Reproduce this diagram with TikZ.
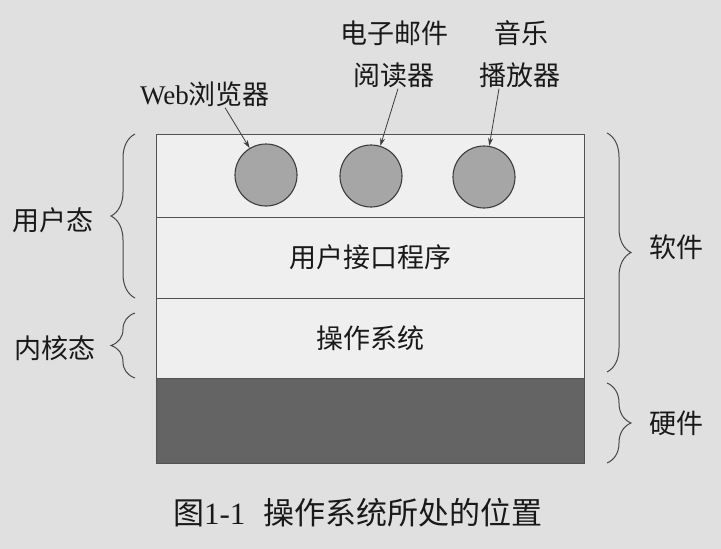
\documentclass[tikz,border=0pt]{standalone}
\usepackage{fontspec}
\setmainfont{Liberation Serif}
\newfontfamily\cjk{Noto Sans CJK SC}
\usetikzlibrary{arrows.meta, positioning, decorations.pathreplacing}
\definecolor{paper}{RGB}{224,224,224}
\definecolor{layerfill}{RGB}{239,239,239}
\definecolor{hwfill}{RGB}{100,100,100}
\definecolor{appfill}{RGB}{166,166,166}
\definecolor{ink}{RGB}{25,25,25}

\begin{document}
\begin{tikzpicture}[
    x=1pt, y=-1pt,
    node distance=0pt,
    layer/.style={
        draw=ink!75,
        fill=layerfill,
        line width=1pt,
        minimum width=428pt,
        inner sep=0pt,
        outer sep=0pt,
        text=ink,
        font=\cjk\fontsize{27}{30}\selectfont
    },
    app/.style={
        circle,
        draw=ink!85,
        fill=appfill,
        line width=1.1pt,
        minimum size=62pt,
        inner sep=0pt
    },
    tag/.style={
        inner sep=1pt,
        text=ink,
        font=\cjk\fontsize{27}{30}\selectfont
    },
    arrow/.style={
        -{Stealth[length=8pt,width=5pt]},
        draw=ink!85,
        line width=0.8pt
    },
    brace/.style={
        decorate,
        decoration={brace, amplitude=24pt},
        draw=ink!80,
        line width=1pt
    }
]
\useasboundingbox[fill=paper] (0,0) rectangle (721,549);

% Nodes
\node (apps) [layer, minimum height=83pt] at (370,175.5) {};
\node (ui) [layer, minimum height=81pt, below=of apps] {用户接口程序};
\node (os) [layer, minimum height=80pt, below=of ui] {操作系统};
\node (hw) [layer, minimum height=85pt, fill=hwfill, below=of os] {};

\node (web) [app] at (266,175) {};
\node (mail) [app] at (371,176) {};
\node (music) [app] at (484,177) {};

\node (weblabel) [tag] at (205,94) {{\rmfamily Web}浏览器};
\node (maillabel) [tag] at (394,75) {阅读器};
\node (mailtop) [tag] at (394,33) {电子邮件};
\node (musiclabel) [tag] at (520,75) {播放器};
\node (musictop) [tag] at (521,33) {音乐};

\node (user) [tag] at (53,220) {用户态};
\node (kernel) [tag] at (55,348) {内核态};
\node (soft) [tag] at (676,247) {软件};
\node (hard) [tag] at (676,423) {硬件};

\node (caption) [tag, font=\cjk\fontsize{31}{33}\selectfont] at (358,513)
    {图{\rmfamily 1-1}\hspace{0.6em}操作系统所处的位置};

% Paths
\draw [arrow] ([xshift=20pt]weblabel.south) -- (web);
\draw [arrow] ([xshift=4pt]maillabel.south) -- (mail);
\draw [arrow] ([xshift=-21pt]musiclabel.south) -- (music);

\draw [brace] ([xshift=-21pt]ui.south west) -- ([xshift=-21pt]apps.north west);
\draw [brace] ([xshift=-21pt]os.south west) -- ([xshift=-21pt,yshift=-15pt]os.north west);
\draw [brace] ([xshift=23pt,yshift=1pt]apps.north east) -- ([xshift=23pt,yshift=6pt]os.south east);
\draw [brace] ([xshift=23pt,yshift=-5pt]hw.north east) -- ([xshift=23pt]hw.south east);

\end{tikzpicture}
\end{document}
